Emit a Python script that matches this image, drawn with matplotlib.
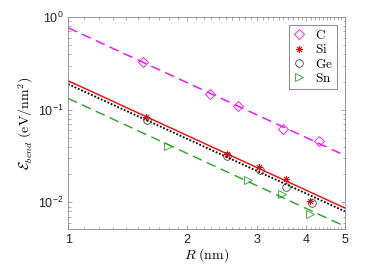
import numpy as np
import matplotlib
matplotlib.use('Agg')
import matplotlib.pyplot as plt
from matplotlib.ticker import FixedLocator, NullFormatter, LogLocator

plt.rcParams['mathtext.fontset'] = 'cm'
plt.rcParams['font.family'] = ['Liberation Sans', 'DejaVu Sans']

# data
R_C = [1.547, 2.28, 2.69, 3.49, 4.31]
E_C = [0.324, 0.146, 0.1086, 0.0618, 0.0455]
R_Si = [1.571, 2.513, 3.04, 3.55, 4.08]
E_Si = [0.0833, 0.0335, 0.0241, 0.01786, 0.01025]
R_Ge = [1.578, 2.527, 3.05, 3.56, 4.12]
E_Ge = [0.0767, 0.0319, 0.0221, 0.01463, 0.00984]
R_Sn = [1.789, 2.85, 3.47, 4.08]
E_Sn = [0.0409, 0.01757, 0.0124, 0.00748]

# fitted lines: values at R = 1 and R = 5
fit_R = [1, 5]
fit_C = [0.767, 0.0321]
fit_Si = [0.2056, 0.00869]
fit_Ge = [0.189, 0.0080]
fit_Sn = [0.1325, 0.00551]

magenta = '#ff00ff'
red = '#ff0000'
green = '#22a822'

fig = plt.figure(figsize=(3.74, 2.80), dpi=100)
ax = fig.add_axes([0.182, 0.182, 0.74, 0.757])

ax.plot(fit_R, fit_C, color=magenta, ls=(0, (7, 4)), lw=1.0)
ax.plot(fit_R, fit_Si, color=red, ls='-', lw=1.0)
ax.plot(fit_R, fit_Ge, color='black', ls=(0, (1, 1)), lw=1.3)
ax.plot(fit_R, fit_Sn, color=green, ls=(0, (7, 4)), lw=1.0)

ax.plot(R_C, E_C, ls='none', marker='D', ms=5, mfc='none', mec=magenta, mew=0.6, label=r'$\mathrm{C}$')
ax.plot(R_Si, E_Si, ls='none', marker=(8, 2, 0), ms=5, mfc='none', mec=red, mew=0.6, label=r'$\mathrm{Si}$')
ax.plot(R_Ge, E_Ge, ls='none', marker='o', ms=5.5, mfc='none', mec='#444444', mew=0.6, label=r'$\mathrm{Ge}$')
ax.plot(R_Sn, E_Sn, ls='none', marker='>', ms=5.5, mfc='none', mec=green, mew=0.6, label=r'$\mathrm{Sn}$')

ax.set_xscale('log')
ax.set_yscale('log')
ax.set_xlim(1, 5)
ax.set_ylim(0.00515, 1)
ax.xaxis.set_major_locator(FixedLocator([1, 2, 3, 4, 5]))
ax.set_xticklabels(['1', '2', '3', '4', '5'])
ax.xaxis.set_minor_locator(FixedLocator(np.arange(1.1, 5, 0.1)))
ax.xaxis.set_minor_formatter(NullFormatter())
ax.yaxis.set_major_locator(LogLocator(base=10))
ax.yaxis.set_minor_locator(LogLocator(base=10, subs=np.arange(2, 10)))
ax.yaxis.set_minor_formatter(NullFormatter())

for s in ax.spines.values():
    s.set_color('#888888')
    s.set_linewidth(0.6)
ax.tick_params(which='both', direction='in', top=True, right=True, colors='#888888',
               labelcolor='#222222', labelsize=9, width=0.5)
ax.tick_params(which='major', length=3)
ax.tick_params(which='minor', length=1.8)

ax.set_xlabel(r'$R\ \mathrm{(nm)}$', fontsize=10, labelpad=0)
ax.set_ylabel(r'$\mathcal{E}_{bend}\ \mathrm{(eV/nm^2)}$', fontsize=10, labelpad=2)

leg = ax.legend(loc='upper right', fontsize=9.5, frameon=True, fancybox=False,
                edgecolor='#555555', handlelength=1.0, handletextpad=0.7,
                borderpad=0.3, labelspacing=0.1, borderaxespad=0.6)
leg.get_frame().set_linewidth(0.6)

fig.savefig('out.png', dpi=100)
